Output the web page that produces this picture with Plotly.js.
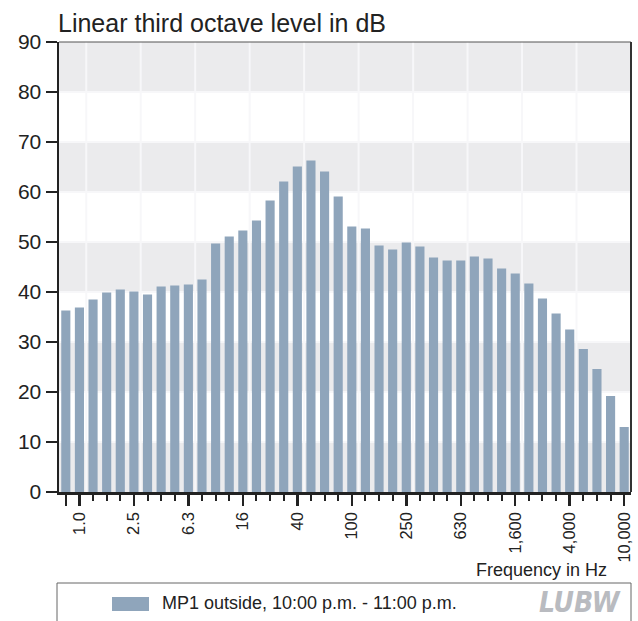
<!DOCTYPE html>
<html>
<head>
<meta charset="utf-8">
<script src="https://cdn.plot.ly/plotly-3.0.1.min.js"></script>
<style>html,body{margin:0;padding:0;background:#fff;}#chart{width:638px;height:621px;}</style>
</head>
<body>
<div id="chart"></div>
<script>
// Third-octave band centre frequencies (Hz)
const freqBands = ['0.8','1.0','1.25','1.6','2.0','2.5','3.15','4.0','5.0','6.3','8.0','10','12.5','16','20','25','31.5','40','50','63','80','100','125','160','200','250','315','400','500','630','800','1,000','1,250','1,600','2,000','2,500','3,150','4,000','5,000','6,300','8,000','10,000'];
// Linear third octave level in dB, MP1 outside, 10:00 p.m. - 11:00 p.m.
const levelDb = [36.3,36.9,38.5,39.9,40.5,40.1,39.5,41.1,41.3,41.5,42.5,49.7,51.1,52.3,54.3,58.3,62.1,65.1,66.3,64.1,59.1,53.1,52.7,49.3,48.5,49.9,49.1,46.9,46.3,46.3,47.1,46.7,44.7,43.7,41.7,38.7,35.7,32.5,28.6,24.6,19.2,13.0];
// Labelled x ticks
const tickLabels = ['1.0','2.5','6.3','16','40','100','250','630','1,600','4,000','10,000'];
const yTicks = [0,10,20,30,40,50,60,70,80,90];
const seriesName = 'MP1 outside, 10:00 p.m. - 11:00 p.m.';

const xIdx = freqBands.map((_, i) => i);
const labelIdx = tickLabels.map(l => freqBands.indexOf(l));

// pixel -> paper helpers for decorations (plot area: x 59..631, y 42..492)
const L = 59, R = 631, T = 42, B = 492;
const PX = px => (px - L) / (R - L);
const PY = py => (B - py) / (B - T);

const FONT = 'Liberation Sans, Arial, sans-serif';
const BAR = '#8fa5bb';

const shapes = [];
// alternating grey bands
for (let k = 0; k < yTicks.length - 1; k += 2) {
  shapes.push({type:'rect', xref:'paper', yref:'y', x0:0, x1:1, y0:yTicks[k], y1:yTicks[k+1],
    fillcolor:'#ebebed', line:{width:0}, layer:'below'});
}
// vertical grid lines at band boundaries after labelled ticks
labelIdx.slice(0, -1).forEach(i => {
  shapes.push({type:'line', xref:'x', yref:'paper', x0:i+0.5, x1:i+0.5, y0:0, y1:1,
    line:{color:'#f7f7f9', width:2}, layer:'below'});
});
// frame top and right
shapes.push({type:'line', xref:'paper', yref:'paper', x0:0, x1:1, y0:1, y1:1, line:{color:'#555', width:1.2}});
shapes.push({type:'line', xref:'paper', yref:'paper', x0:1, x1:1, y0:0, y1:1, line:{color:'#333', width:2}});
// legend box
shapes.push({type:'rect', xref:'paper', yref:'paper', x0:PX(57), x1:PX(631), y0:PY(583), y1:PY(650),
  line:{color:'#666', width:1}, fillcolor:'rgba(0,0,0,0)'});
// legend swatch
shapes.push({type:'rect', xref:'paper', yref:'paper', x0:PX(112), x1:PX(149), y0:PY(597), y1:PY(611),
  line:{width:0}, fillcolor:BAR});

const data = [{
  type:'bar', x:xIdx, y:levelDb, name:seriesName, showlegend:false,
  marker:{color:BAR, line:{width:0}},
  customdata: freqBands,
  hovertemplate:'%{customdata} Hz: %{y} dB<extra></extra>'
}];

const layout = {
  width:638, height:621,
  margin:{l:L, r:638-R, t:T, b:621-B, pad:0},
  paper_bgcolor:'#fff', plot_bgcolor:'#fff',
  font:{family:FONT, color:'#222'},
  bargap:0.33,
  showlegend:false,
  xaxis:{
    type:'linear', range:[-0.5, freqBands.length - 0.5],
    tickmode:'array', tickvals:[0].concat(labelIdx), ticktext:[''].concat(tickLabels),
    tickangle:-90, tickfont:{size:16.5, color:'#222'},
    ticks:'outside', ticklen:11, tickwidth:2.5, tickcolor:'#222',
    minor:{tickmode:'linear', tick0:0, dtick:1, ticks:'outside', ticklen:6, tickwidth:2, tickcolor:'#222', showgrid:false},
    showgrid:false, zeroline:false,
    showline:true, linecolor:'#222', linewidth:2.5
  },
  yaxis:{
    range:[0,90], tickmode:'array', tickvals:yTicks,
    tickfont:{size:21, color:'#222'},
    ticks:'outside', ticklen:11, tickwidth:2.5, tickcolor:'#222',
    showgrid:true, gridcolor:'#f7f7f9', gridwidth:1.5,
    zeroline:false, showline:true, linecolor:'#222', linewidth:2.5
  },
  shapes:shapes,
  annotations:[
    {text:'Linear third octave level in dB', xref:'paper', yref:'paper', x:0, y:1,
     xanchor:'left', yanchor:'bottom', xshift:-3, yshift:3, showarrow:false,
     font:{size:25, color:'#222', family:FONT}},
    {text:'Frequency in Hz', xref:'paper', yref:'paper', x:1, y:0,
     xanchor:'right', yanchor:'middle', xshift:-22, yshift:-78, showarrow:false,
     font:{size:18, color:'#222', family:FONT}},
    {text:seriesName, xref:'paper', yref:'paper', x:PX(160), y:PY(603),
     xanchor:'left', yanchor:'middle', showarrow:false,
     font:{size:18, color:'#222', family:FONT}},
    {text:'<b><i>LUBW</i></b>', xref:'paper', yref:'paper', x:PX(623), y:PY(602),
     xanchor:'right', yanchor:'middle', showarrow:false,
     font:{size:28, color:'#b9bbc0', family:'Liberation Sans Narrow, DejaVu Sans Condensed, sans-serif'}}
  ]
};

Plotly.newPlot('chart', data, layout, {displayModeBar:false, staticPlot:true});
</script>
</body>
</html>
